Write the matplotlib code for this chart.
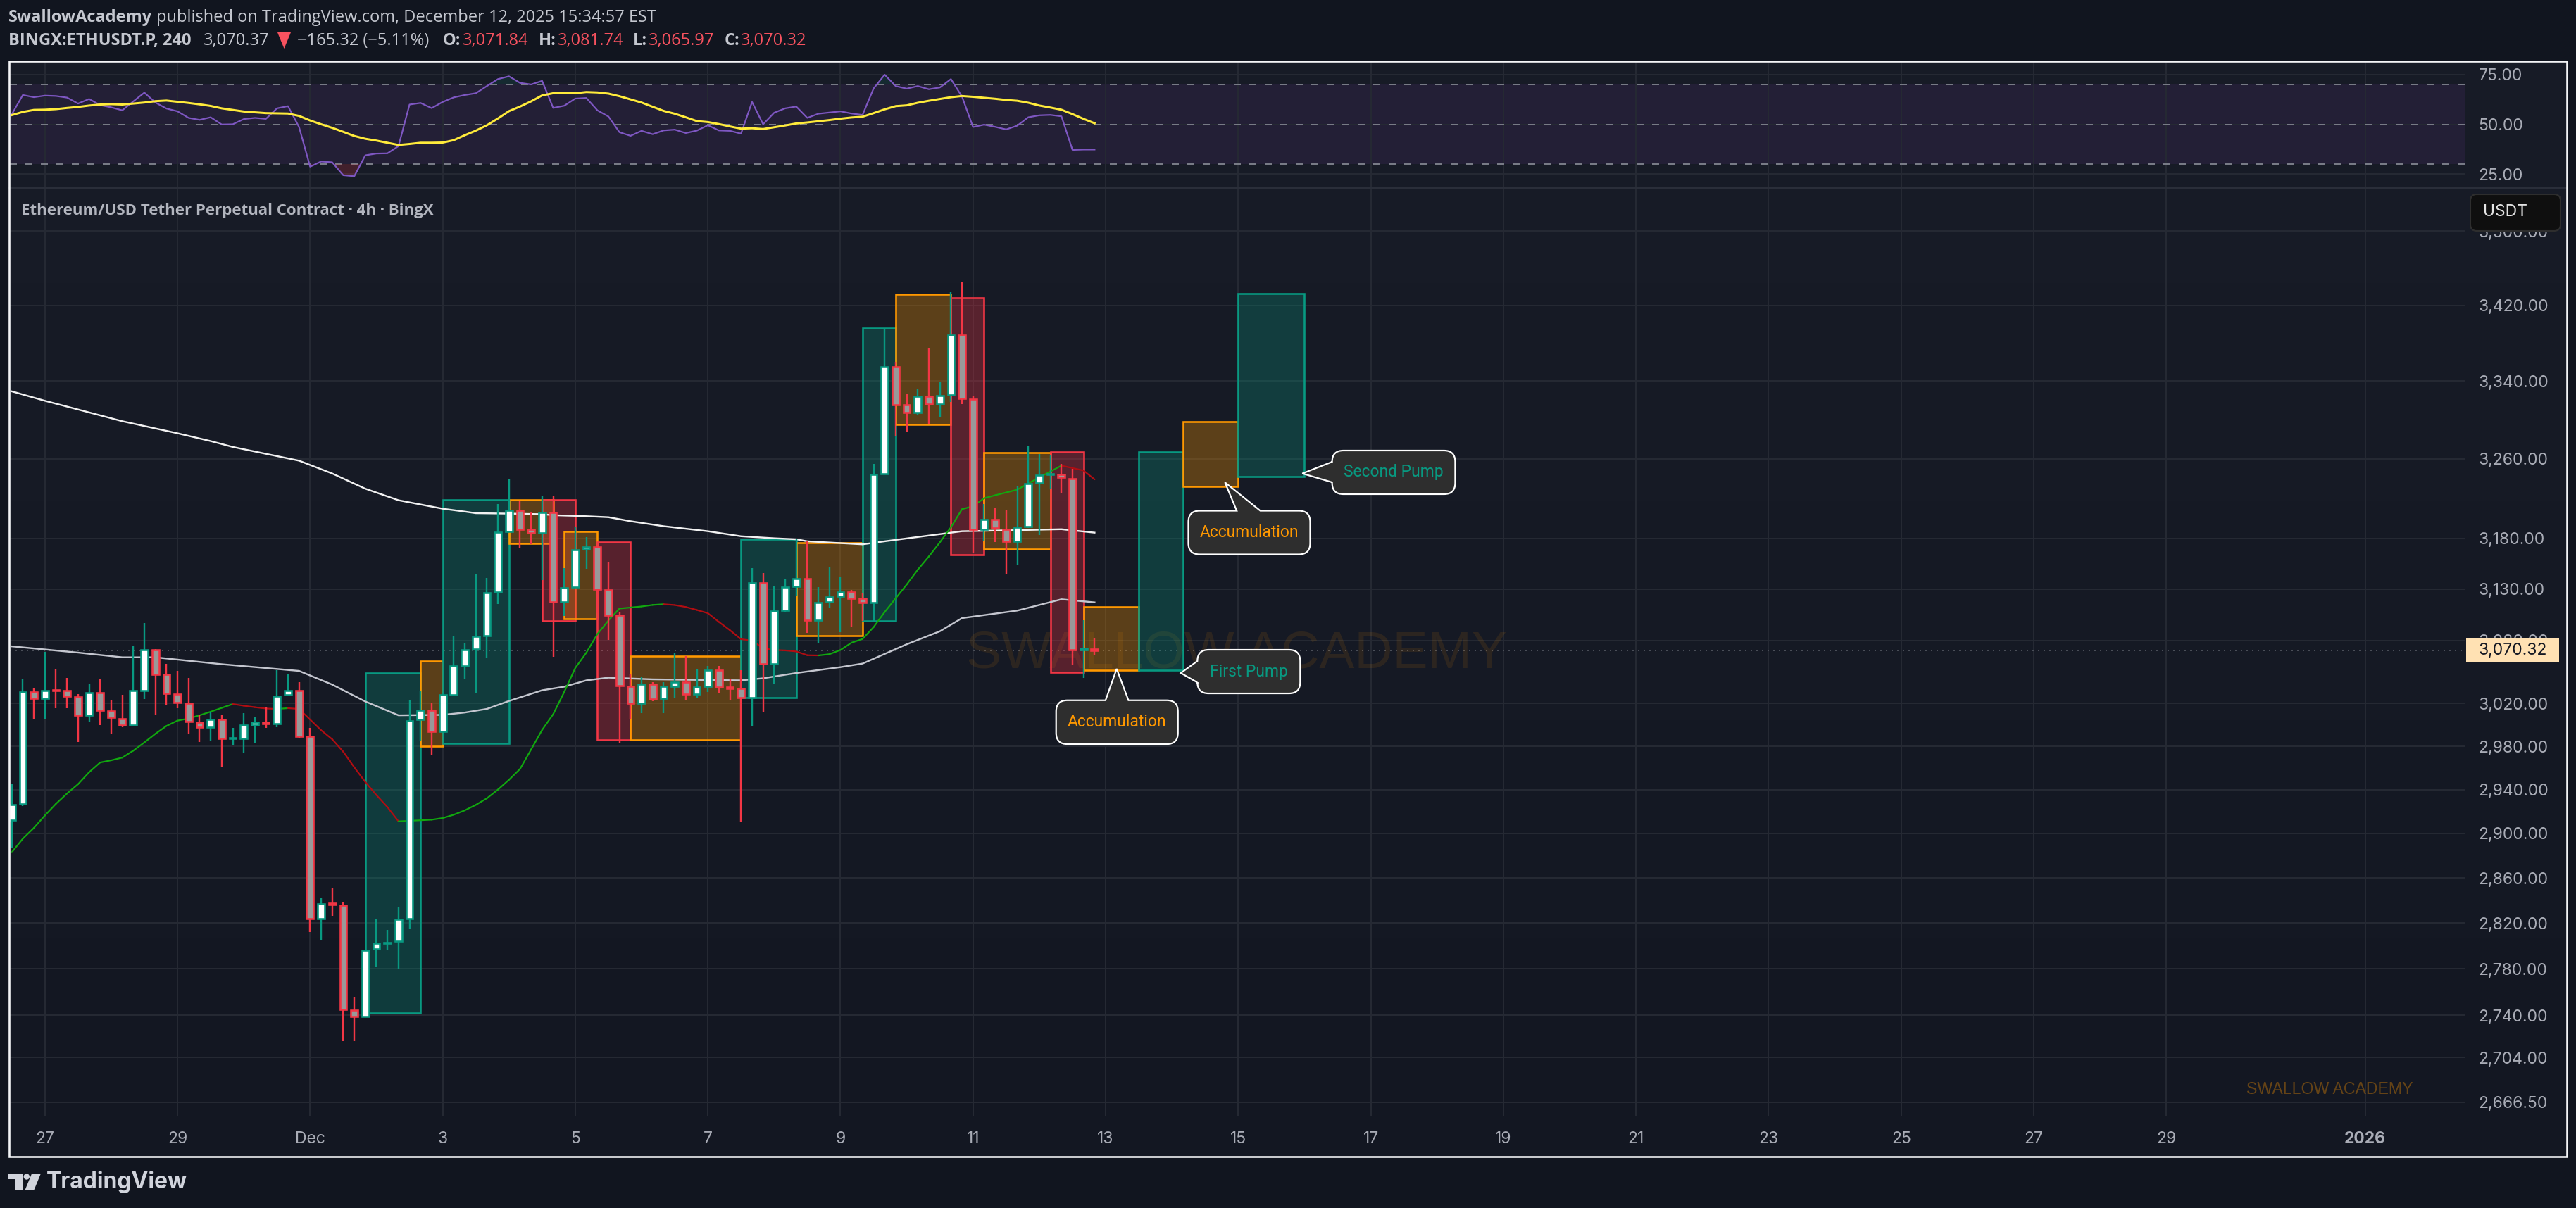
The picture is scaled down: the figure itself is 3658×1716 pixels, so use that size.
import matplotlib
matplotlib.use('Agg')
import matplotlib.pyplot as plt
import numpy as np
from matplotlib.lines import Line2D
from matplotlib.patches import FancyBboxPatch, PathPatch, Polygon, Circle, Rectangle
from matplotlib.path import Path
from matplotlib.ticker import FuncFormatter, NullLocator
from matplotlib.transforms import IdentityTransform

W, H = 3658, 1716
DPI = 100

# bar index 0 is the Nov 27 00:00 candle, bars are 4h
first_bar = -3
opens = [2912, 2927, 3031, 3025, 3033, 3032, 3026.5, 3009, 3030, 3013, 3006, 3000, 3032, 3071.5, 3048, 3029, 3020, 3002.5,
         2998, 3005, 2987, 2987, 3000, 3002.5, 3001, 3028, 3032.5, 2989, 2824, 2837.5, 2835.5, 2744, 2739, 2797, 2802, 2804,
         2824, 3005, 3014, 2994, 3028.4, 3056, 3072, 3084.6, 3127, 3187, 3208, 3188.5, 3185, 3205.6, 3117.3, 3131.8, 3169,
         3171.5, 3129, 3104.6, 3036.4, 3020, 3038, 3025, 3036.6, 3040, 3029, 3036, 3052, 3035.5, 3034, 3025.8, 3136, 3058,
         3109, 3132.6, 3140, 3099.6, 3117.3, 3122.8, 3127, 3121, 3117, 3244.6, 3355, 3315, 3307.4, 3324, 3316, 3325.8, 3388.4,
         3321, 3188.6, 3198.6, 3189, 3177, 3192, 3235.4, 3244, 3243.7, 3240, 3071.4, 3071.84]
highs = [2945, 3043, 3035, 3069, 3053, 3044.5, 3029, 3038.5, 3043, 3023, 3028, 3075, 3097, 3072, 3058, 3051, 3044, 3009,
         3012, 3010, 2997, 3011, 3008, 3017, 3052, 3048, 3040, 2997, 2842, 2851, 2838, 2756, 2796, 2823, 2814, 2833.5,
         3023.5, 3032.5, 3020, 3030, 3084.6, 3078, 3145, 3141, 3214, 3239, 3218, 3206.6, 3222, 3223, 3150.4, 3191.4, 3181,
         3172, 3156.7, 3107, 3048.4, 3045, 3040.6, 3040, 3068.4, 3065, 3053, 3055.4, 3056, 3043, 3052, 3150.4, 3145.6, 3133.6,
         3139.5, 3179, 3177.4, 3131.8, 3151.9, 3142, 3129.4, 3125.5, 3254.6, 3395.8, 3360, 3326, 3332, 3374, 3338.6, 3434, 3445.3,
         3324.6, 3214, 3211, 3208, 3232, 3272.6, 3265, 3263.4, 3254.6, 3250, 3099.4, 3081.74]
lows = [2887, 2925, 3006, 3005, 3016, 3016, 2984, 3003, 3000, 2992, 2998, 3000, 3024, 3009, 3019, 3016, 2991, 2984,
        2985, 2961, 2981, 2974, 2983, 2997, 2998, 3028, 2987, 2812, 2805, 2826.5, 2718, 2718, 2739, 2782, 2796, 2780,
        2814.5, 2985, 2972, 2994, 3028, 3043, 3029.6, 3063, 3115.4, 3186.5, 3170, 3174, 3139, 3064.6, 3103.7, 3131, 3150,
        3106.5, 3081, 2983, 3005, 3011, 3022, 3011, 3025, 3023.7, 3025.6, 3031, 3029.6, 3023.7, 2910, 2999, 3011.6, 3039,
        3107, 3123.5, 3087.5, 3078, 3111.3, 3088, 3093.7, 3098.7, 3098.7, 3244, 3283, 3287, 3305, 3295, 3303, 3318, 3316,
        3165, 3178, 3176, 3144, 3154, 3190, 3183.4, 3230, 3224.7, 3056.6, 3044, 3065.97]
closes = [2926, 3031, 3025, 3032, 3032, 3027, 3009, 3030, 3014, 3007, 3000, 3032, 3071.5, 3048, 3029.5, 3021, 3003, 2998,
          3005, 2987, 2988, 3000, 3002.5, 3001, 3027, 3032.5, 2989, 2824, 2837, 2836, 2745, 2739, 2796, 2802, 2803, 2823,
          3004, 3014, 2994, 3028, 3056, 3071.5, 3084, 3126.5, 3186, 3208, 3188.5, 3185, 3205.6, 3117.3, 3131, 3168.6, 3171.5,
          3130, 3104.6, 3037, 3020, 3038, 3024.6, 3036.4, 3040, 3029, 3035.5, 3052, 3035.5, 3034, 3025.4, 3136, 3058, 3108.7,
          3132, 3140, 3099.6, 3117, 3122.6, 3127.4, 3121, 3117, 3243.7, 3355, 3315.4, 3307.4, 3324, 3316, 3325, 3388.4, 3322,
          3189, 3198.6, 3190, 3177, 3191, 3235, 3243, 3245, 3240.8, 3071, 3072.3, 3070.32]

# white moving averages, vertices
ma_upper_bars = [-3, 0, 3, 7, 12, 15, 17, 23, 26, 29, 32, 36, 38, 39, 42, 45, 46, 49, 51, 53, 56, 60, 63, 66, 68, 69, 74, 76, 83, 85, 92, 95]
ma_upper = [3329.3, 3319.5, 3310.5, 3298.4, 3286, 3278, 3272, 3258, 3245, 3229.6, 3218, 3209.5, 3206.6, 3205, 3204.6, 3204, 3203, 3202,
            3201, 3197, 3192, 3187, 3182, 3180, 3179, 3177, 3174, 3177, 3187, 3187.4, 3189, 3185.6]
ma_lower_bars = [-3, 3, 7, 10, 16, 23, 26, 29, 32, 36, 38, 40, 42, 45, 47, 49, 51, 55, 59, 63, 65, 68, 72, 74, 78, 81, 83, 88, 92, 95]
ma_lower = [3074.5, 3068.5, 3064, 3064, 3057.4, 3051, 3038, 3022, 3009, 3009.4, 3011.6, 3015, 3022.5, 3032.6, 3036, 3042, 3044.6, 3043,
            3042.5, 3042, 3044, 3049, 3054.6, 3058, 3076.5, 3089, 3101.7, 3109, 3120, 3117]
# green when rising, red when falling, one value per bar
ma_fast = [2883, 2895.3, 2905, 2916.4, 2927, 2936.4, 2945, 2956, 2965, 2967, 2969.5, 2976, 2983.6, 2991.7, 2999, 3004, 3006, 3009, 3012.4,
           3016, 3019.6, 3018, 3016.6, 3015.4, 3015, 3015.7, 3015, 3005, 2995, 2986.6, 2975, 2960.5, 2947, 2935, 2924, 2911, 2911.5, 2912,
           2912.5, 2914, 2917, 2921, 2926, 2932, 2940, 2949, 2959, 2977, 2995.3, 3010, 3031, 3053.8, 3068.4, 3086.3, 3099.4, 3111, 3112, 3113,
           3114.5, 3115.2, 3114.4, 3112.5, 3109.6, 3106.5, 3098, 3090, 3081.4, 3080, 3072.6, 3071, 3070.6, 3069.6, 3066, 3065.8, 3067, 3071,
           3078, 3081.6, 3093, 3107.6, 3121, 3134.5, 3149, 3162, 3176, 3191, 3209, 3212, 3220, 3223, 3225.8, 3228.6, 3235, 3241, 3247, 3253,
           3250.5, 3248, 3239]

rsi = [55, 64.7, 63.6, 64.4, 64.2, 63.4, 60.4, 62.7, 59.6, 58.5, 57, 61.5, 65.9, 60.9, 57.9, 56.5, 53.2, 52.2, 53.5, 49.9, 50, 52.6, 53.2, 52.7,
       58, 59.1, 48.6, 28.7, 31.3, 30.9, 24.4, 23.9, 34.4, 35.3, 35.4, 39, 59.9, 60.7, 58.1, 61.2, 63.5, 64.7, 65.6, 69.2, 72.7, 74.1, 70.8, 70,
       71.8, 58.2, 59.3, 62.9, 63.2, 57, 53.9, 46, 44.2, 46.7, 45, 46.9, 47.3, 45.6, 46.8, 49.5, 46.9, 46.7, 45.3, 61.2, 50, 55.8, 58, 58.9, 53.2,
       55.3, 55.9, 56.5, 55.4, 54.7, 68, 74.9, 69.2, 67.9, 69.2, 67.6, 68.5, 72.7, 63.9, 48.6, 49.8, 48.7, 47.4, 49.3, 53.5, 54.5, 54.7, 54, 37.1,
       37.3, 37.3]
rsi_ma = [54.6, 56.2, 57.2, 57.3, 57.6, 58.2, 58.7, 59.4, 59.9, 60.1, 59.9, 60.4, 60.9, 61.6, 61.9, 61.3, 60.7, 60, 59.2, 58, 57.2, 56.4, 56, 55.6,
          55.5, 55.4, 54.2, 51.9, 50, 48.2, 46.2, 44.1, 42.7, 41.8, 40.7, 39.6, 40.1, 40.7, 40.7, 40.8, 42, 44.5, 46.8, 49.5, 52.9, 56.6, 58.9, 61.5,
          64.5, 65.6, 65.6, 65.6, 66.2, 66, 65.4, 64.1, 62.5, 60.9, 58.8, 56.7, 55.3, 53.5, 51.6, 51.1, 50.1, 48.9, 47.8, 48, 47.6, 48.5, 49.4, 50.4,
          50.9, 51.5, 52.1, 52.8, 53.4, 53.8, 55.6, 57.5, 59.1, 59.5, 60.8, 61.8, 62.7, 63.6, 64.2, 63.8, 63.3, 62.8, 62.2, 61.8, 60.8, 59.4, 58.4,
          57.3, 55.1, 52.7, 50.5]

# drawn boxes
box_start = [29, 34, 36, 42, 45, 47, 50, 53, 63, 68, 74, 77, 82, 85, 91, 94, 99, 103, 108]
box_end = [34, 36, 42, 46, 48, 50, 53, 63, 68, 74, 77, 82, 85, 91, 94, 99, 103, 108, 114]
box_top = [3049, 3060.7, 3218.5, 3218.5, 3218.5, 3187, 3176.5, 3065, 3179, 3175.6, 3396, 3432, 3428, 3266, 3267, 3113, 3267, 3298, 3432.6]
box_bottom = [2742, 2980, 2983, 3174.7, 3099, 3101, 2986.3, 2986.3, 3025.8, 3085, 3098.7, 3295, 3163.6, 3169, 3050, 3051.6, 3051.6, 3232, 3241.5]
box_kind = ['g', 'o', 'g', 'o', 'r', 'o', 'r', 'o', 'g', 'o', 'g', 'o', 'r', 'o', 'r', 'o', 'g', 'o', 'g']

price_ticks = [3500, 3420, 3340, 3260, 3180, 3130, 3080, 3020, 2980, 2940, 2900, 2860, 2820, 2780, 2740, 2704, 2666.5]
rsi_ticks = [25, 50, 75]
date_bars = [0, 12, 24, 36, 48, 60, 72, 84, 96, 108, 120, 132, 144, 156, 168, 180, 192, 210]
date_labels = ['27', '29', 'Dec', '3', '5', '7', '9', '11', '13', '15', '17', '19', '21', '23', '25', '27', '29', '2026']
last_price = 3070.32

TEAL = '#089981'
RED = '#f23645'
ORANGE = '#ff9800'
GRID = '#252933'
TICK = '#a9acb6'
FONT = 'Inter'

px2pt = 72 / DPI
BAR_PX = 15.69
PLOT_L, PLOT_R = 14, 3500
RSI_T, SEP, MAIN_B = 87, 267, 1586


def axes_rect(left, top, right, bottom):
    return [left / W, 1 - bottom / H, (right - left) / W, (bottom - top) / H]


def ftext(x, y, s, **kw):
    kw.setdefault('va', 'center')
    kw.setdefault('family', FONT)
    return fig.text(x, H - y, s, transform=IdentityTransform(), **kw)


fig = plt.figure(figsize=(W / DPI, H / DPI), dpi=DPI, facecolor='#11151f')

# panel background has a slight vertical gradient
back = fig.add_axes(axes_rect(13, 87, 3645, 1643), zorder=-1)
back.imshow(np.linspace(0, 1, 256).reshape(-1, 1), aspect='auto', vmin=0, vmax=1,
            cmap=matplotlib.colors.LinearSegmentedColormap.from_list('bg', ['#181c27', '#131722']))
back.axis('off')

xlim = ((PLOT_L - 63.8) / BAR_PX, (PLOT_R - 63.8) / BAR_PX)
bars = np.arange(first_bar, first_bar + len(opens))

# RSI pane
ax_rsi = fig.add_axes(axes_rect(PLOT_L, RSI_T, PLOT_R, SEP), facecolor='none')
ax_rsi.set_xlim(xlim)
ax_rsi.set_ylim(18, 81.65)
ax_rsi.axhspan(30, 70, color='#231f36', zorder=0.5, lw=0)
ax_rsi.set_yticks(rsi_ticks)
ax_rsi.set_yticklabels(['%.2f' % v for v in rsi_ticks])
ax_rsi.set_xticks(date_bars)
ax_rsi.tick_params(axis='x', length=0, labelbottom=False)
ax_rsi.tick_params(axis='y', length=0, right=True, left=False, labelright=True, labelleft=False,
                   labelcolor=TICK, labelsize=16.5, pad=14)
for t in ax_rsi.get_yticklabels():
    t.set_family(FONT)
ax_rsi.grid(True, color=GRID, lw=2 * px2pt, zorder=1)
ax_rsi.set_axisbelow(True)
for v in [70, 50, 30]:
    ax_rsi.axhline(v, color='#787b86', lw=2 * px2pt, ls=(0, (5, 6)), zorder=1.5)
rsi_arr = np.array(rsi)
ax_rsi.fill_between(bars, 70, rsi_arr, where=rsi_arr > 70, interpolate=True, color=TEAL, alpha=0.12, lw=0, zorder=1.8)
ax_rsi.fill_between(bars, 30, rsi_arr, where=rsi_arr < 30, interpolate=True, color=RED, alpha=0.2, lw=0, zorder=1.8)
ax_rsi.plot(bars, rsi, color='#7e57c2', lw=2.2 * px2pt, zorder=2)
ax_rsi.plot(bars, rsi_ma, color='#ffeb3b', lw=3 * px2pt, zorder=2.2)
for s in ax_rsi.spines.values():
    s.set_visible(False)

# price pane
ax = fig.add_axes(axes_rect(PLOT_L, SEP, PLOT_R, MAIN_B), facecolor='none')
ax.set_yscale('log')
ax.set_xlim(xlim)
ax.set_ylim(2654.7, 3547.6)
ax.yaxis.set_minor_locator(NullLocator())
ax.set_yticks(price_ticks)
ax.yaxis.set_major_formatter(FuncFormatter(lambda v, p: '{:,.2f}'.format(v)))
ax.yaxis.set_minor_formatter(FuncFormatter(lambda v, p: ''))
ax.set_xticks(date_bars)
ax.set_xticklabels(date_labels)
ax.tick_params(axis='x', length=0, labelcolor=TICK, labelsize=16.5, pad=15)
ax.tick_params(axis='y', length=0, right=True, left=False, labelright=True, labelleft=False,
               labelcolor=TICK, labelsize=16.5, pad=14)
for t in ax.get_xticklabels() + ax.get_yticklabels():
    t.set_family(FONT)
ax.get_xticklabels()[-1].set_fontweight('bold')
ax.grid(True, color=GRID, lw=2 * px2pt, zorder=1)
ax.set_axisbelow(True)
for s in ax.spines.values():
    s.set_visible(False)

ax.axhline(last_price, color='#4a4e58', lw=2 * px2pt, ls=(0, (1, 3)), zorder=1.2)

ax.text(0.5 * (1409.6 + 2103), H - 929, 'SWALLOW ACADEMY', transform=IdentityTransform(), ha='center', va='center',
        family='Liberation Sans', fontsize=54, color=ORANGE, alpha=0.1, zorder=1.3)
ax.text(0.5 * (3205.6 + 3410), H - 1547, 'SWALLOW ACADEMY', transform=IdentityTransform(), ha='center', va='center',
        family='Liberation Sans', fontsize=16.7, color=ORANGE, alpha=0.35, zorder=1.3)

colours = {'g': TEAL, 'o': ORANGE, 'r': RED}
alphas = {'g': 0.28, 'o': 0.3, 'r': 0.3}
for start, end, top, bottom, kind in zip(box_start, box_end, box_top, box_bottom, box_kind):
    c = colours[kind]
    ax.add_patch(Rectangle((start, bottom), end - start, top - bottom, facecolor=matplotlib.colors.to_rgba(c, alphas[kind]),
                           edgecolor=c, lw=2.6 * px2pt, zorder=2))

ax.plot(ma_upper_bars, ma_upper, color='#f2f2f2', lw=2.4 * px2pt, zorder=2.5)
ax.plot(ma_lower_bars, ma_lower, color='#c4c6cf', lw=2.4 * px2pt, zorder=2.5)
for i in range(len(ma_fast) - 1):
    c = '#11a80f' if ma_fast[i + 1] > ma_fast[i] else '#b00d12'
    ax.plot(bars[i:i + 2], ma_fast[i:i + 2], color=c, lw=2.2 * px2pt, zorder=2.6, solid_capstyle='round')

o = np.array(opens)
c = np.array(closes)
up = c >= o
wick_colours = [TEAL if u else RED for u in up]
ax.vlines(bars, lows, highs, colors=wick_colours, lw=2.4 * px2pt, zorder=3)
ax.bar(bars, np.abs(c - o), bottom=np.minimum(o, c), width=0.62, color=['#ffffff' if u else '#999999' for u in up],
       edgecolor=wick_colours, lw=2.6 * px2pt, zorder=3.2)


# speech bubbles, geometry in pixels around the tip
def callout(n, price, left, top, w, h, tail0, tail1, side, label, colour):
    tx, ty = ax.transData.transform((n, price))
    x0, x1 = tx + left, tx + left + w
    y1, y0 = ty - top, ty - top - h
    r = 16
    verts = [(x0 + r, y1)]
    codes = [Path.MOVETO]
    if side == 'top':
        verts += [(tx + tail0, y1), (tx, ty), (tx + tail1, y1)]
        codes += [Path.LINETO] * 3
    verts += [(x1 - r, y1), (x1, y1), (x1, y1 - r), (x1, y0 + r), (x1, y0), (x1 - r, y0), (x0 + r, y0), (x0, y0), (x0, y0 + r)]
    codes += [Path.LINETO, Path.CURVE3, Path.CURVE3, Path.LINETO, Path.CURVE3, Path.CURVE3, Path.LINETO, Path.CURVE3, Path.CURVE3]
    if side == 'left':
        verts += [(x0, ty - tail1), (tx, ty), (x0, ty - tail0)]
        codes += [Path.LINETO] * 3
    verts += [(x0, y1 - r), (x0, y1), (x0 + r, y1), (x0 + r, y1)]
    codes += [Path.LINETO, Path.CURVE3, Path.CURVE3, Path.CLOSEPOLY]
    fig.add_artist(PathPatch(Path(verts, codes), facecolor='#2e2e2e', edgecolor='white', lw=2.2 * px2pt,
                             transform=IdentityTransform(), zorder=5))
    fig.text((x0 + x1) / 2, (y0 + y1) / 2, label, color=colour, ha='center', va='center', fontsize=16.5, family='Roboto',
             transform=IdentityTransform(), zorder=6)


callout(97, 3053, -86, 44.7, 173, 62.3, -15.8, 16.7, 'top', 'Accumulation', ORANGE)
callout(102.8, 3049, 23.6, -33, 146, 62, -17, 13.4, 'left', 'First Pump', TEAL)
callout(106.8, 3236, -52, 40.3, 173, 62, 16.7, 50.2, 'top', 'Accumulation', ORANGE)
callout(113.8, 3245, 42.3, -32.6, 174.8, 62, -16.5, 12.5, 'left', 'Second Pump', TEAL)

# price axis extras
fig.add_artist(FancyBboxPatch((3508, H - 328), 128, 52, boxstyle='round,pad=0,rounding_size=9', facecolor='#0f0f0f',
                              edgecolor='#2e2e2e', lw=1.5, transform=IdentityTransform(), zorder=5))
ftext(3526.5, 301, 'USDT', color='#e3e3e3', fontsize=16.5, zorder=6)
fig.add_artist(Rectangle((3502, H - 941), 131.5, 34, facecolor='#ffe1b3', edgecolor='none',
                         transform=IdentityTransform(), zorder=5))
ftext(3519.5, 924, '{:,.2f}'.format(last_price), color='#131722', fontsize=16.5, zorder=6)

# header
GREY = '#c4c7cf'
HEAD = 'Open Sans'
ftext(12, 25, 'SwallowAcademy', color=GREY, fontsize=17, fontweight='bold', family=HEAD)
ftext(222, 25, 'published on TradingView.com, December 12, 2025 15:34:57 EST', color=GREY, fontsize=17, family=HEAD)
ftext(12, 58, 'BINGX:ETHUSDT.P, 240', color=GREY, fontsize=17, fontweight='bold', family=HEAD)
ftext(289, 58, '3,070.37', color=GREY, fontsize=17, family=HEAD)
fig.add_artist(Polygon([(394, H - 46), (413, H - 46), (403.5, H - 69)], closed=True, facecolor='#f7525f', edgecolor='none',
                       transform=IdentityTransform(), zorder=5))
ftext(422, 58, '\u2212165.32 (\u22125.11%)', color=GREY, fontsize=17, family=HEAD)
for x_lab, x_val, lab, val in [(629, 657, 'O:', '3,071.84'), (765, 792, 'H:', '3,081.74'), (899, 921, 'L:', '3,065.97'), (1029, 1052, 'C:', '3,070.32')]:
    ftext(x_lab, 58, lab, color=GREY, fontsize=17, fontweight='bold', family=HEAD)
    ftext(x_val, 58, val, color='#f7525f', fontsize=17, family=HEAD)

ftext(30.5, 300, 'Ethereum/USD Tether Perpetual Contract \u00b7 4h \u00b7 BingX', color='#b2b5be', fontsize=16, fontweight='bold', family=HEAD)

# frame and pane separator
fig.add_artist(Line2D([13 / W, 3645 / W], [1 - SEP / H, 1 - SEP / H], color='#2a2e39', lw=2 * px2pt))
fig.add_artist(Rectangle((13, H - 1643), 3632, 1556, facecolor='none', edgecolor='#f4f5f7', lw=2.6 * px2pt,
                         transform=IdentityTransform(), zorder=7))

# logo
LOGO = '#d1d4dc'
fig.add_artist(Polygon([(12.2, H - 1667.7), (31.6, H - 1667.7), (31.6, H - 1690), (21.4, H - 1690), (21.4, H - 1675), (12.2, H - 1675)],
                       closed=True, facecolor=LOGO, edgecolor='none', transform=IdentityTransform()))
fig.add_artist(Circle((37.8, H - 1671.5), 4.2, facecolor=LOGO, edgecolor='none', transform=IdentityTransform()))
fig.add_artist(Polygon([(44.9, H - 1667.7), (57.7, H - 1667.7), (48.5, H - 1690), (35.7, H - 1690)],
                       closed=True, facecolor=LOGO, edgecolor='none', transform=IdentityTransform()))
ftext(66, 1679, 'TradingView', color=LOGO, fontsize=23, fontweight='bold')

fig.savefig('out.png', dpi=DPI, facecolor=fig.get_facecolor())
